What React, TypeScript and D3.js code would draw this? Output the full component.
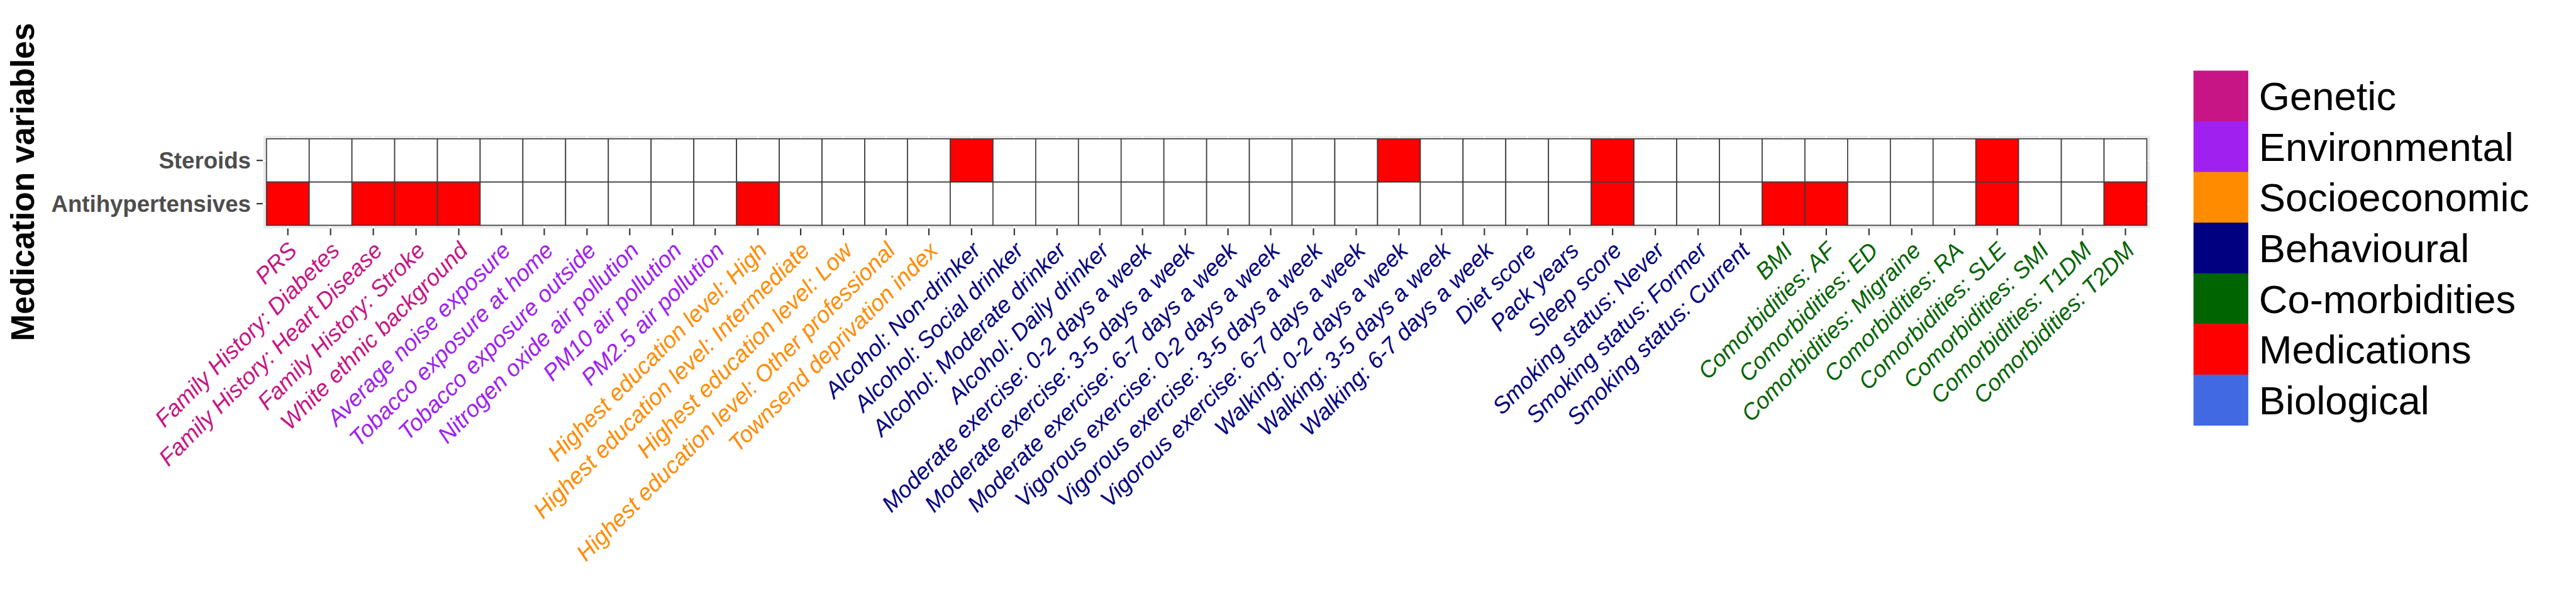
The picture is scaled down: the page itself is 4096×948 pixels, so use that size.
import React from "react";
import * as d3 from "d3";

// ---------- DATA ----------
const geneticVars = ["PRS", "Family History: Diabetes", "Family History: Heart Disease", "Family History: Stroke", "White ethnic background"];
const environmentalVars = ["Average noise exposure", "Tobacco exposure at home", "Tobacco exposure outside", "Nitrogen oxide air pollution", "PM10 air pollution", "PM2.5 air pollution"];
const socioeconomicVars = ["Highest education level: High", "Highest education level: Intermediate", "Highest education level: Low", "Highest education level: Other professional", "Townsend deprivation index"];
const behaviouralVars = ["Alcohol: Non-drinker", "Alcohol: Social drinker", "Alcohol: Moderate drinker", "Alcohol: Daily drinker", "Moderate exercise: 0-2 days a week", "Moderate exercise: 3-5 days a week", "Moderate exercise: 6-7 days a week", "Vigorous exercise: 0-2 days a week", "Vigorous exercise: 3-5 days a week", "Vigorous exercise: 6-7 days a week", "Walking: 0-2 days a week", "Walking: 3-5 days a week", "Walking: 6-7 days a week", "Diet score", "Pack years", "Sleep score", "Smoking status: Never", "Smoking status: Former", "Smoking status: Current"];
const comorbidityVars = ["BMI", "Comorbidities: AF", "Comorbidities: ED", "Comorbidities: Migraine", "Comorbidities: RA", "Comorbidities: SLE", "Comorbidities: SMI", "Comorbidities: T1DM", "Comorbidities: T2DM"];

const medications = ["Steroids", "Antihypertensives"];

// presence (1) / absence (0) per variable, in the order above
const steroidsValues = [
  0, 0, 0, 0, 0,
  0, 0, 0, 0, 0, 0,
  0, 0, 0, 0, 0,
  1, 0, 0, 0, 0, 0, 0, 0, 0, 0, 1, 0, 0, 0, 0, 1, 0, 0, 0,
  0, 0, 0, 0, 0, 1, 0, 0, 0,
];
const antihypertensivesValues = [
  1, 0, 1, 1, 1,
  0, 0, 0, 0, 0, 0,
  1, 0, 0, 0, 0,
  0, 0, 0, 0, 0, 0, 0, 0, 0, 0, 0, 0, 0, 0, 0, 1, 0, 0, 0,
  1, 1, 0, 0, 0, 1, 0, 0, 1,
];

const legendCategories = ["Genetic", "Environmental", "Socioeconomic", "Behavioural", "Co-morbidities", "Medications", "Biological"];
const legendColors = ["#C71585", "#A020F0", "#FF8C00", "#000080", "#006400", "#FF0000", "#4169E1"];

// ---------- DERIVED ----------
const groups: [string, string[]][] = [
  ["Genetic", geneticVars],
  ["Environmental", environmentalVars],
  ["Socioeconomic", socioeconomicVars],
  ["Behavioural", behaviouralVars],
  ["Co-morbidities", comorbidityVars],
];
const variables: string[] = groups.flatMap(([, v]) => v);
const varCategory: Record<string, string> = {};
groups.forEach(([c, vs]) => vs.forEach((v) => (varCategory[v] = c)));
const colorScale = d3.scaleOrdinal<string, string>().domain(legendCategories).range(legendColors);

const valuesByMed: Record<string, number[]> = {
  Steroids: steroidsValues,
  Antihypertensives: antihypertensivesValues,
};
const cells = medications.flatMap((m) => variables.map((v, i) => ({ med: m, variable: v, value: valuesByMed[m][i] })));

// ---------- LAYOUT (reference pixels) ----------
const FONT = "'Liberation Sans', Arial, Helvetica, sans-serif";
const tileLeft = 428, tileRight = 3448, tileTop = 223, tileBottom = 362;
const panelPad = 5;

export default function App() {
  const x = d3.scaleBand<string>().domain(variables).range([tileLeft, tileRight]).padding(0);
  const y = d3.scaleBand<string>().domain(medications).range([tileTop, tileBottom]).padding(0);
  const bw = x.bandwidth();
  const bh = y.bandwidth();

  const legendTop = 113.5, legendRowH = 81.4, swX = 3523, swW = 88;
  const legendFs = 64;
  const axisFs = 37;
  const capH = 0.716;

  return (
    <svg width={4096} height={948} style={{ position: "absolute", left: 0, top: 0, background: "#fff" }}>
      <g transform="scale(0.99)">
        <rect x={0} y={0} width={4134} height={957} fill="#fff" />
        {/* panel background */}
        <rect x={tileLeft - panelPad} y={tileTop - panelPad} width={tileRight - tileLeft + 2 * panelPad} height={tileBottom - tileTop + 2 * panelPad} fill="#EBEBEB" />
        {variables.map((v) => (
          <line key={"gv" + v} x1={x(v)! + bw / 2} x2={x(v)! + bw / 2} y1={tileTop - panelPad} y2={tileBottom + panelPad} stroke="#fff" strokeWidth={2.5} />
        ))}
        {medications.map((m) => (
          <line key={"gh" + m} y1={y(m)! + bh / 2} y2={y(m)! + bh / 2} x1={tileLeft - panelPad} x2={tileRight + panelPad} stroke="#fff" strokeWidth={2.5} />
        ))}
        {/* tiles */}
        {cells.map((c) => (
          <rect key={c.med + c.variable} x={x(c.variable)} y={y(c.med)} width={bw} height={bh} fill={c.value ? "#FF0000" : "#FFFFFF"} stroke="#3c3c3c" strokeWidth={1.7} />
        ))}
        {/* y axis */}
        {medications.map((m) => {
          const cy = y(m)! + bh / 2;
          return (
            <g key={"ya" + m}>
              <line x1={412} x2={422} y1={cy} y2={cy} stroke="#333" strokeWidth={2.2} />
              <text x={403} y={cy + (capH * axisFs) / 2} textAnchor="end" fontFamily={FONT} fontWeight="bold" fontSize={axisFs} fill="#4D4D4D">
                {m}
              </text>
            </g>
          );
        })}
        {/* x axis */}
        {variables.map((v) => {
          const cx = x(v)! + bw / 2;
          const tx = cx - 2, ty = 386;
          return (
            <g key={"xa" + v}>
              <line x1={cx} x2={cx} y1={367} y2={378} stroke="#333" strokeWidth={2.2} />
              <text transform={`translate(${tx},${ty}) rotate(-45)`} dy={capH * axisFs} textAnchor="end" fontFamily={FONT} fontStyle="italic" fontSize={axisFs} fill={colorScale(varCategory[v])}>
                {v}
              </text>
            </g>
          );
        })}
        {/* y title */}
        <text transform={`translate(55,${(tileTop + tileBottom) / 2}) rotate(-90)`} textAnchor="middle" fontFamily={FONT} fontWeight="bold" fontSize={52} fill="#000">
          Medication variables
        </text>
        {/* legend */}
        {legendCategories.map((c, i) => {
          const top = legendTop + i * legendRowH;
          return (
            <g key={"lg" + c}>
              <rect x={swX} y={top} width={swW} height={legendRowH + 0.5} fill={colorScale(c)} />
              <text x={3628} y={top + legendRowH / 2 + (capH * legendFs) / 2} fontFamily={FONT} fontSize={legendFs} fill="#000">
                {c}
              </text>
            </g>
          );
        })}
      </g>
    </svg>
  );
}
